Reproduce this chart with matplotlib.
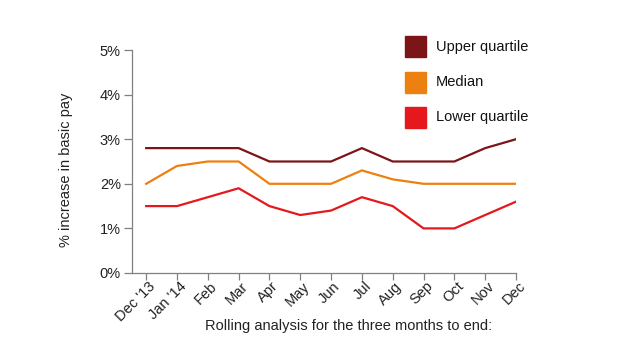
import numpy as np
import matplotlib
matplotlib.use('Agg')
import matplotlib.pyplot as plt
from matplotlib.patches import Rectangle
from matplotlib.transforms import ScaledTranslation

plt.rcParams['font.family'] = ['Liberation Sans', 'DejaVu Sans']

months = ["Dec '13", "Jan '14", 'Feb', 'Mar', 'Apr', 'May', 'Jun',
          'Jul', 'Aug', 'Sep', 'Oct', 'Nov', 'Dec']
upper = [2.8, 2.8, 2.8, 2.8, 2.5, 2.5, 2.5, 2.8, 2.5, 2.5, 2.5, 2.8, 3.0]
median = [2.0, 2.4, 2.5, 2.5, 2.0, 2.0, 2.0, 2.3, 2.1, 2.0, 2.0, 2.0, 2.0]
lower = [1.5, 1.5, 1.7, 1.9, 1.5, 1.3, 1.4, 1.7, 1.5, 1.0, 1.0, 1.3, 1.6]
yticks = [0, 1, 2, 3, 4, 5]

series = [('Upper quartile', upper, '#7b1518'),
          ('Median', median, '#ec8010'),
          ('Lower quartile', lower, '#e4181d')]

fs = 10.5
fig = plt.figure(figsize=(6.35, 3.57), dpi=100)
ax = fig.add_axes([132/635, 1-273/357, (516-132)/635, (273-50)/357])

x = np.arange(len(months))
for name, vals, col in series:
    ax.plot(x, vals, color=col, lw=1.6, solid_joinstyle='miter')

ax.set_xlim(-0.46, len(months)-1)
ax.set_ylim(0, 5)
ax.set_yticks(yticks)
ax.set_yticklabels(['%d%%' % v for v in yticks])
ax.set_xticks(x)

for s in ['top', 'right']:
    ax.spines[s].set_visible(False)
for s in ['left', 'bottom']:
    ax.spines[s].set_color('#808080')
    ax.spines[s].set_linewidth(0.9)
ax.tick_params(colors='#808080', labelcolor='#222222', labelsize=fs,
               width=0.9, direction='out')
ax.tick_params(axis='y', length=6, pad=2)
ax.tick_params(axis='x', length=5, pad=3)

ax.set_xticklabels(months, rotation=45, ha='right', va='center',
                   rotation_mode='anchor')
# nudge the slanted labels to the right (after tick_params, which resets them)
off = ScaledTranslation(7/100, 0, fig.dpi_scale_trans)
for lab in ax.get_xticklabels():
    lab.set_transform(lab.get_transform() + off)

fig.text(66/635, 1-170/357, '% increase in basic pay', fontsize=fs,
         color='#222222', rotation=90, ha='center', va='center')
fig.text(349/635, 1-326/357, 'Rolling analysis for the three months to end:',
         fontsize=fs, color='#222222', ha='center', va='center')

# legend
for i, (name, vals, col) in enumerate(series):
    top = 36 + i*35.5
    fig.patches.append(Rectangle((405/635, 1-(top+21)/357), 21/635, 21/357,
                                 transform=fig.transFigure, color=col))
    fig.text(436/635, 1-(top+10.5)/357, name, fontsize=fs, color='#111111',
             va='center', ha='left')

fig.savefig('out.png', dpi=100)
